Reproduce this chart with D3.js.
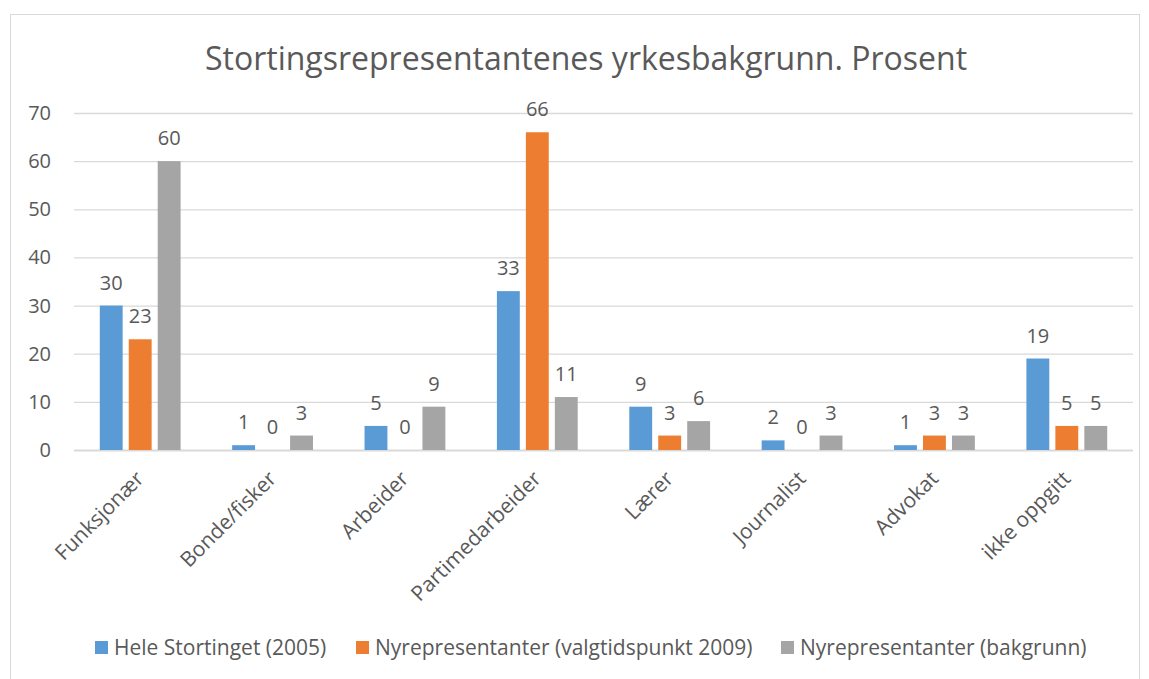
<!DOCTYPE html>
<html>
<head>
<meta charset="utf-8">
<script src="https://cdn.jsdelivr.net/npm/d3@7"></script>
<style>
  body { margin: 0; background: #fff; }
  text { font-family: "Open Sans", "Liberation Sans", sans-serif; fill: #595959; }
</style>
</head>
<body>
<script>
//
// DATA
//
var categories = ["Funksjonær", "Bonde/fisker", "Arbeider", "Partimedarbeider", "Lærer", "Journalist", "Advokat", "ikke oppgitt"];
var seriesNames = ["Hele Stortinget (2005)", "Nyrepresentanter (valgtidspunkt 2009)", "Nyrepresentanter (bakgrunn)"];
var hele = [30, 1, 5, 33, 9, 2, 1, 19];
var nyValg = [23, 0, 0, 66, 3, 0, 3, 5];
var nyBak = [60, 3, 9, 11, 6, 3, 3, 5];
var yTicks = [0, 10, 20, 30, 40, 50, 60, 70];
var colors = ["#5b9bd5", "#ed7d31", "#a5a5a5"];

var W = 1149, H = 679;
var plot = { left: 74, right: 1133, top: 113, bottom: 450 };

var svg = d3.select("body").append("svg")
    .attr("width", W)
    .attr("height", H);

// outer chart border
svg.append("rect")
    .attr("x", 10.5).attr("y", 14.5)
    .attr("width", 1129).attr("height", 700)
    .attr("fill", "none")
    .attr("stroke", "#d9d9d9");

// title
svg.append("text")
    .attr("x", 586).attr("y", 70)
    .attr("text-anchor", "middle")
    .style("font-size", "32px")
    .text("Stortingsrepresentantenes yrkesbakgrunn. Prosent");

var x = d3.scaleBand()
    .domain(categories)
    .range([plot.left, plot.right]);

var x1 = d3.scaleBand()
    .domain(d3.range(3))
    .range([0, x.bandwidth()])
    .paddingInner(0.21)
    .paddingOuter(0.89);

var y = d3.scaleLinear()
    .domain([0, 70])
    .range([plot.bottom, plot.top]);

// gridlines
svg.append("g")
    .selectAll("line")
    .data(yTicks)
    .enter().append("line")
    .attr("x1", plot.left).attr("x2", plot.right)
    .attr("y1", function(d){ return y(d) + 0.5; })
    .attr("y2", function(d){ return y(d) + 0.5; })
    .attr("stroke", "#d9d9d9")
    .attr("stroke-width", function(d){ return d === 0 ? 2 : 1.3; });

// y tick labels
svg.append("g")
    .selectAll("text")
    .data(yTicks)
    .enter().append("text")
    .attr("x", 51)
    .attr("y", function(d){ return y(d); })
    .attr("dy", "0.35em")
    .attr("text-anchor", "end")
    .style("font-size", "20px")
    .text(function(d){ return d; });

var series = [hele, nyValg, nyBak];
var rows = [];
series.forEach(function(vals, s){
    vals.forEach(function(v, i){
        rows.push({ s: s, cat: categories[i], v: v });
    });
});

// bars
svg.append("g")
    .selectAll("rect")
    .data(rows)
    .enter().append("rect")
    .attr("x", function(d){ return x(d.cat) + x1(d.s); })
    .attr("y", function(d){ return y(d.v); })
    .attr("width", x1.bandwidth())
    .attr("height", function(d){ return y(0) - y(d.v); })
    .attr("fill", function(d){ return colors[d.s]; });

// value labels
svg.append("g")
    .selectAll("text")
    .data(rows)
    .enter().append("text")
    .attr("x", function(d){ return x(d.cat) + x1(d.s) + x1.bandwidth() / 2; })
    .attr("y", function(d){ return y(d.v) - 16; })
    .attr("text-anchor", "middle")
    .style("font-size", "20px")
    .text(function(d){ return d.v; });

// category labels, rotated
svg.append("g")
    .selectAll("text")
    .data(categories)
    .enter().append("text")
    .attr("transform", function(d){
        return "translate(" + (x(d) + x.bandwidth() / 2 + 5) + "," + 480 + ") rotate(-45)";
    })
    .attr("text-anchor", "end")
    .style("font-size", "21px")
    .text(function(d){ return d; });

// legend
var legendX = [95, 356, 781];
var lg = svg.append("g")
    .selectAll("g")
    .data(seriesNames)
    .enter().append("g")
    .attr("transform", function(d, i){ return "translate(" + legendX[i] + ",641)"; });

lg.append("rect")
    .attr("width", 13).attr("height", 13)
    .attr("fill", function(d, i){ return colors[i]; });

lg.append("text")
    .attr("x", 19).attr("y", 14)
    .style("font-size", "21px")
    .text(function(d){ return d; });
</script>
</body>
</html>
